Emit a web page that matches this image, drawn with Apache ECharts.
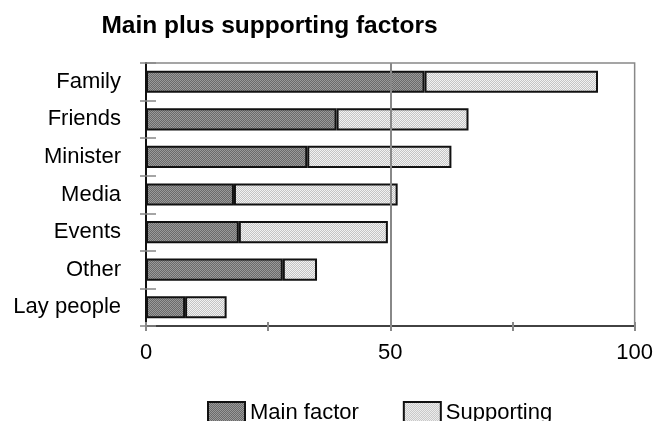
<!DOCTYPE html>
<html>
<head>
<meta charset="utf-8">
<script src="https://cdn.jsdelivr.net/npm/echarts@6/dist/echarts.min.js"></script>
<style>
  html, body { margin: 0; padding: 0; background: #fff; }
  #chart { width: 656px; height: 421px; }
</style>
</head>
<body>
<div id="chart"></div>
<script>
// Factors, listed top to bottom
const categories = ['Family', 'Friends', 'Minister', 'Media', 'Events', 'Other', 'Lay people'];
const mainFactor = [57, 39, 33, 18, 19, 28, 8];
const supporting = [35.5, 27, 29.5, 33.5, 30.5, 7, 8.5];
const xTicks = [0, 25, 50, 75, 100];
const xLabelled = [0, 50, 100];

// Dithered fill, like an old print pattern
function checker(c1, c2) {
  const cv = document.createElement('canvas');
  cv.width = 2; cv.height = 2;
  const ctx = cv.getContext('2d');
  ctx.fillStyle = c1; ctx.fillRect(0, 0, 2, 2);
  ctx.fillStyle = c2; ctx.fillRect(0, 0, 1, 1); ctx.fillRect(1, 1, 1, 1);
  return { image: cv, repeat: 'repeat' };
}
const darkFill = checker('#6a6a6a', '#9a9a9a');
const lightFill = checker('#c4c4c4', '#f2f2f2');
const FONT = 'Liberation Sans, Arial, sans-serif';

const xMin = xTicks[0], xMax = xTicks[xTicks.length - 1];

const chart = echarts.init(document.getElementById('chart'), null, { renderer: 'canvas' });
chart.setOption({
  animation: false,
  backgroundColor: '#fff',
  textStyle: { fontFamily: FONT },
  title: {
    text: 'Main plus supporting factors',
    left: 264.5, top: 9, textAlign: 'center',
    textStyle: { fontSize: 24.5, fontWeight: 'bold', color: '#000', fontFamily: FONT }
  },
  legend: {
    left: 202, top: 396, icon: 'rect',
    itemWidth: 37, itemHeight: 22, itemGap: 44,
    textStyle: { fontSize: 22, color: '#000' },
    data: ['Main factor', 'Supporting']
  },
  grid: { left: 146, right: 17, top: 63, bottom: 95, show: true, borderColor: '#888', borderWidth: 1.5 },
  xAxis: [
    {
      type: 'value', min: xMin, max: xMax, interval: 25,
      axisLine: { show: true, lineStyle: { color: '#222', width: 1.5 } },
      axisTick: { show: true, length: 5, lineStyle: { color: '#888', width: 2 } },
      splitLine: { show: false },
      axisLabel: {
        fontSize: 22, color: '#000', margin: 16,
        formatter: function (v) { return xLabelled.indexOf(v) >= 0 ? String(v) : ''; }
      }
    },
    {
      // inner half of the bottom tick marks
      type: 'value', min: xMin, max: xMax, interval: 25, position: 'bottom', offset: 0,
      axisLine: { show: false },
      axisTick: { show: true, inside: true, length: 4, lineStyle: { color: '#888', width: 2 } },
      splitLine: { show: false }, axisLabel: { show: false }
    }
  ],
  yAxis: [
    {
      type: 'category', data: categories, inverse: true,
      axisLine: { show: true, lineStyle: { color: '#111', width: 2 } },
      axisTick: { show: true, length: 6, lineStyle: { color: '#888', width: 1.5 } },
      axisLabel: { fontSize: 22, color: '#000', margin: 25 }
    },
    {
      // inner half of the category tick marks
      type: 'category', data: categories, inverse: true, position: 'left', offset: 0,
      axisLine: { show: false },
      axisTick: { show: true, inside: true, length: 10, lineStyle: { color: '#888', width: 1.5 } },
      axisLabel: { show: false }, splitLine: { show: false }
    }
  ],
  series: [
    {
      name: 'Main factor', type: 'bar', stack: 'total', barWidth: '59%',
      data: mainFactor,
      itemStyle: { color: darkFill, borderColor: '#111', borderWidth: 2 },
      z: 3,
      markLine: {
        silent: true, symbol: 'none', label: { show: false },
        lineStyle: { color: '#888', width: 2, type: 'solid' },
        data: [{ xAxis: 50 }]
      }
    },
    {
      name: 'Supporting', type: 'bar', stack: 'total', barWidth: '59%',
      data: supporting,
      itemStyle: { color: lightFill, borderColor: '#111', borderWidth: 2 },
      z: 3
    }
  ]
});
</script>
</body>
</html>
